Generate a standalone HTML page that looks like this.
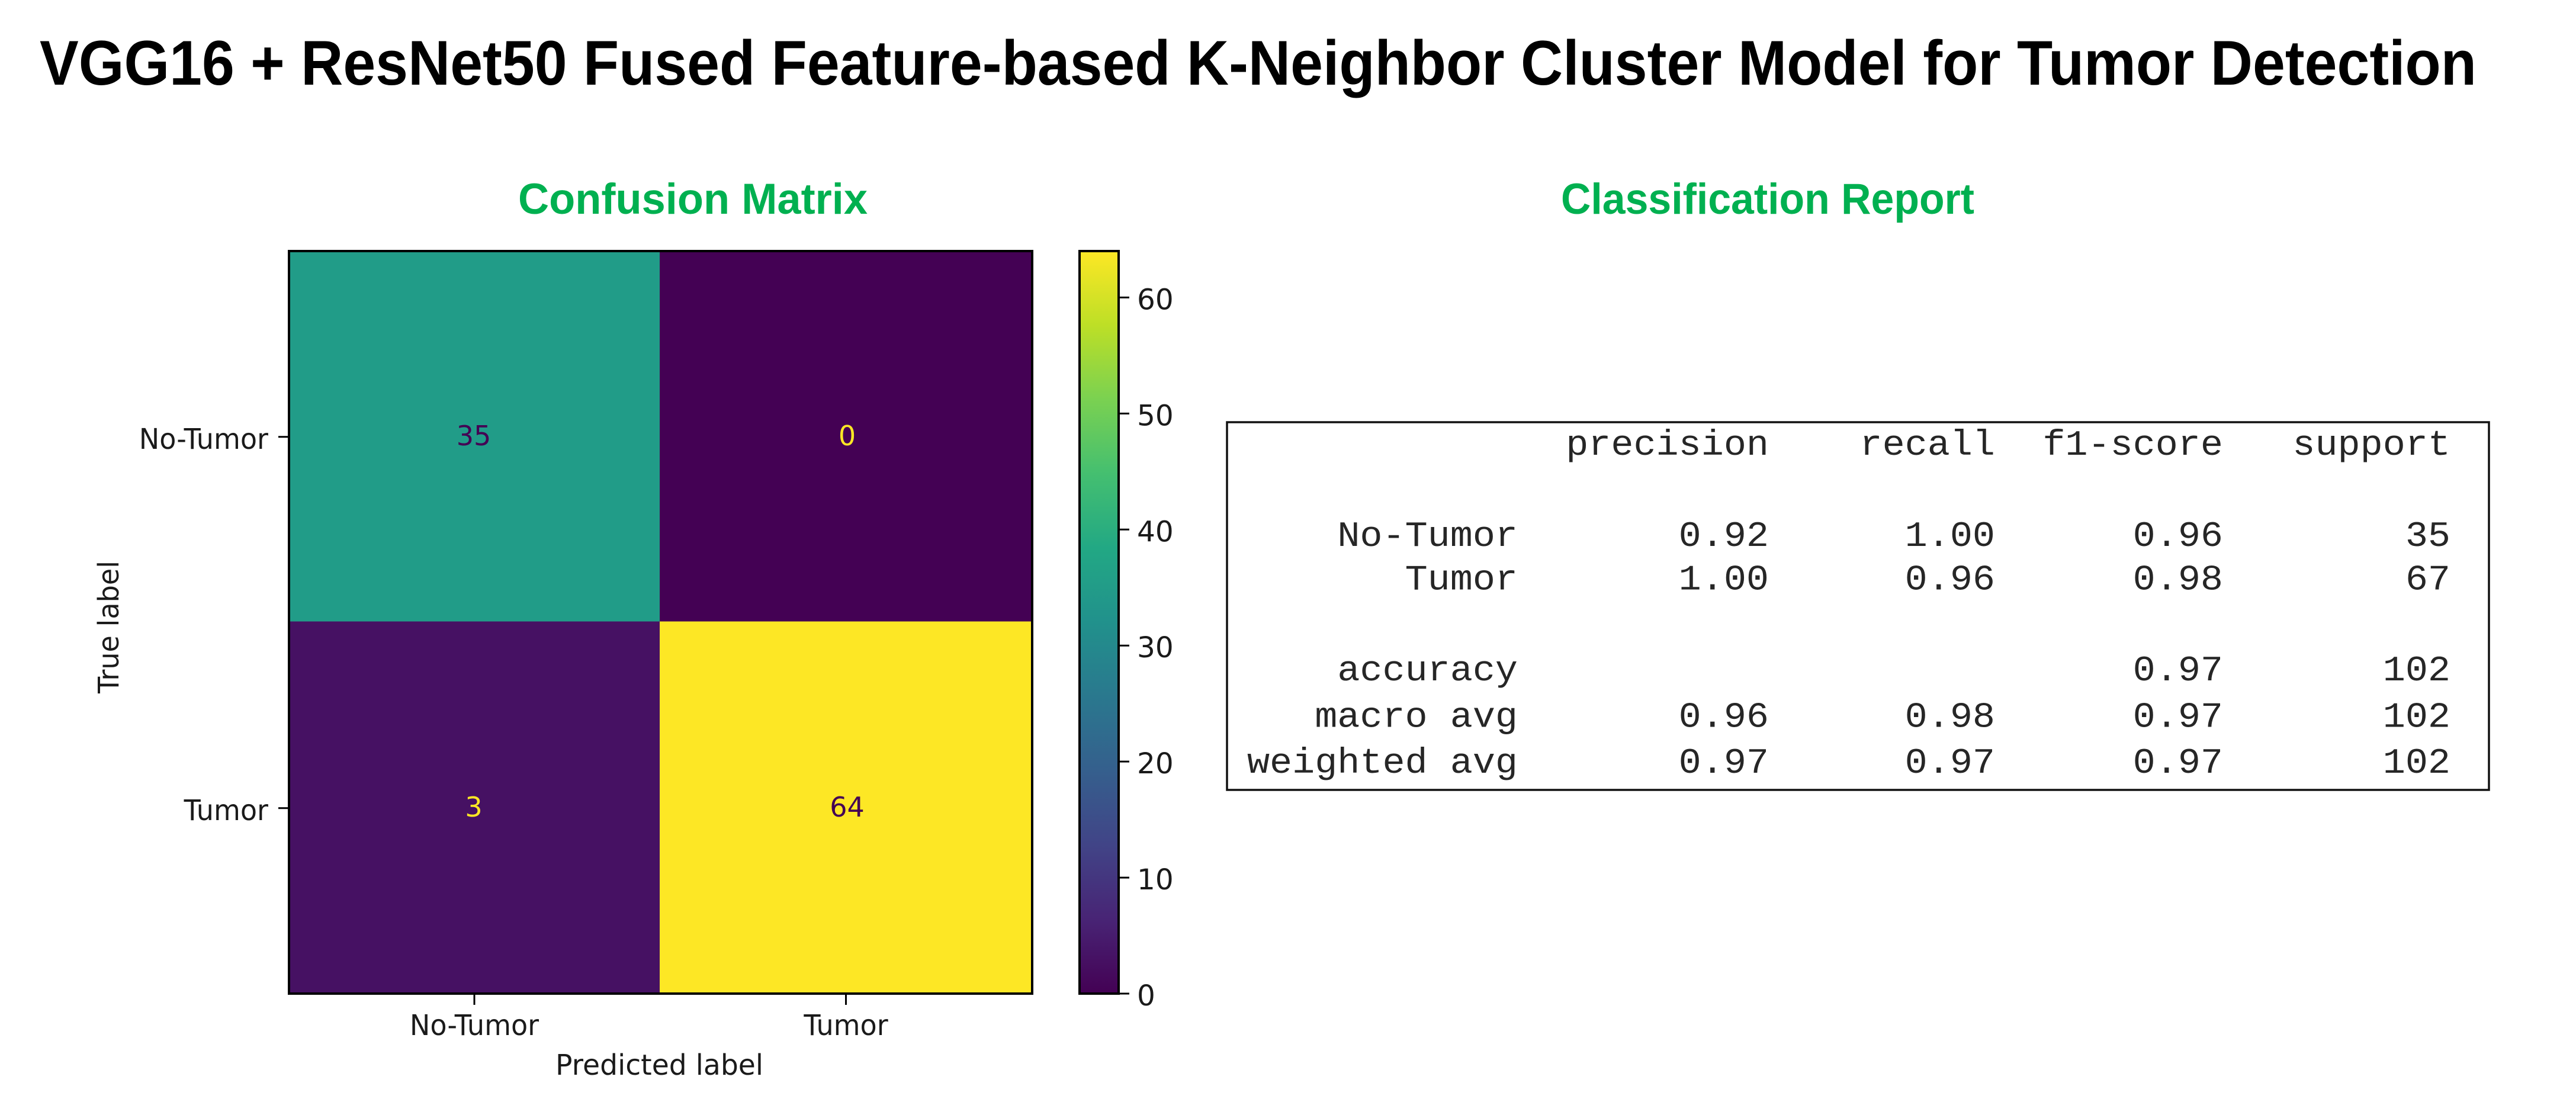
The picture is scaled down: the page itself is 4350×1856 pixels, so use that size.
<!DOCTYPE html>
<html lang="en">
<head>
<meta charset="utf-8">
<title>VGG16 + ResNet50 Fused Feature-based K-Neighbor Cluster Model for Tumor Detection</title>
<style>
html,body{margin:0;padding:0;background:#fff;width:4350px;height:1856px;overflow:hidden}
svg{display:block;position:absolute;left:0;top:0}
text{white-space:pre}
.dj{font-family:"DejaVu Sans","Liberation Sans",sans-serif;font-size:48.5px;fill:#1a1a1a}
.mono{font-family:"Liberation Mono",monospace;font-size:60px;fill:#262626}
.head{font-family:"Liberation Sans",sans-serif;font-weight:700;fill:#00b050;font-size:73px}
</style>
</head>
<body>
<svg id="fig" xmlns="http://www.w3.org/2000/svg" width="4350" height="1856" viewBox="0 0 4350 1856">
  <defs>
    <linearGradient id="viridis-grad" x1="0" y1="1" x2="0" y2="0"></linearGradient>
  </defs>
  <rect x="0" y="0" width="4350" height="1856" fill="#ffffff"/>
  <text x="67" y="143" font-family="'Liberation Sans',sans-serif" font-weight="700" font-size="107" fill="#000" textLength="4115" lengthAdjust="spacingAndGlyphs">VGG16 + ResNet50 Fused Feature-based K-Neighbor Cluster Model for Tumor Detection</text>
  <text class="head" x="875" y="361" textLength="590" lengthAdjust="spacingAndGlyphs">Confusion Matrix</text>
  <text class="head" x="2636" y="361" textLength="698" lengthAdjust="spacingAndGlyphs">Classification Report</text>
  <text class="dj" x="938" y="1815" textLength="351" lengthAdjust="spacingAndGlyphs">Predicted label</text>
  <text class="dj" transform="translate(200,1171) rotate(-90)" textLength="224" lengthAdjust="spacingAndGlyphs">True label</text>
  <g id="cm"></g>
  <g id="cbar"></g>
  <g id="report"></g>
</svg>
<script>
// Confusion matrix data
const classNames = ["No-Tumor", "Tumor"];
const matrixRow0 = [35, 0];
const matrixRow1 = [3, 64];
const colorbarTicks = [0, 10, 20, 30, 40, 50, 60];

// Classification report data
const reportHeader = ["precision", "recall", "f1-score", "support"];
const reportLabels = ["No-Tumor", "Tumor", "accuracy", "macro avg", "weighted avg"];
const reportPrecision = ["0.92", "1.00", "", "0.96", "0.97"];
const reportRecall = ["1.00", "0.96", "", "0.98", "0.97"];
const reportF1 = ["0.96", "0.98", "0.97", "0.97", "0.97"];
const reportSupport = ["35", "67", "102", "102", "102"];

const NS = "http://www.w3.org/2000/svg";
const matrix = [matrixRow0, matrixRow1];
const vmin = 0;
const vmax = Math.max(...matrixRow0, ...matrixRow1);

// viridis colormap anchors
const viridisAnchors = ["#440154","#482475","#414487","#355f8d","#2a788e","#21918c","#22a884","#44bf70","#7ad151","#bddf26","#fde725"];
function hexToRgb(h){return [1,3,5].map(function(i){return parseInt(h.substr(i,2),16);});}
function viridis(t){
  const p = Math.max(0, Math.min(1, t)) * (viridisAnchors.length - 1);
  const i = Math.min(Math.floor(p), viridisAnchors.length - 2);
  const f = p - i;
  const a = hexToRgb(viridisAnchors[i]);
  const b = hexToRgb(viridisAnchors[i + 1]);
  return "rgb(" + a.map(function(v, k){return Math.round(v + (b[k] - v) * f);}).join(",") + ")";
}
function norm(v){return (v - vmin) / (vmax - vmin);}

// axis functions
const plot = {left: 488, right: 1743, top: 424, bottom: 1678, midX: 1114, midY: 1049.5};
function cellX(i){return i === 0 ? plot.left : plot.midX;}
function cellW(i){return i === 0 ? plot.midX - plot.left : plot.right - plot.midX;}
function cellY(i){return i === 0 ? plot.top : plot.midY;}
function cellH(i){return i === 0 ? plot.midY - plot.top : plot.bottom - plot.midY;}
function cx(i){return cellX(i) + cellW(i) / 2;}
function cy(i){return cellY(i) + cellH(i) / 2;}
const bar = {left: 1823, right: 1889, top: 424, bottom: 1678};
function barY(v){return bar.bottom - norm(v) * (bar.bottom - bar.top);}

function add(parent, tag, attrs, txt){
  const el = document.createElementNS(NS, tag);
  for (const k in attrs) el.setAttribute(k, attrs[k]);
  if (txt !== undefined) el.textContent = txt;
  parent.appendChild(el);
  return el;
}

const cm = document.getElementById("cm");
matrix.forEach(function(row, r){
  row.forEach(function(v, c){
    const rect = add(cm, "rect", {x: cellX(c), y: cellY(r), width: cellW(c), height: cellH(r), fill: viridis(norm(v))});
    
    
  });
});
matrix.forEach(function(row, r){
  row.forEach(function(v, c){
    const t = add(cm, "text", {x: cx(c) + (c === 1 ? 2 : -1), y: cy(r) + 15, "text-anchor": "middle", "font-family": "'DejaVu Sans',sans-serif", "font-size": 46, fill: norm(v) > 0.5 ? "#440154" : "#fde725"}, String(v));
    
    
  });
});
const frame = add(cm, "rect", {x: plot.left, y: plot.top, width: plot.right - plot.left, height: plot.bottom - plot.top, fill: "none", stroke: "#000", "stroke-width": 4});



const labelSquash = 0.95;
classNames.forEach(function(name, i){
  const xt = add(cm, "line", {x1: cx(i), x2: cx(i), y1: plot.bottom, y2: plot.bottom + 19, stroke: "#000", "stroke-width": 3});
  
  
  const xl = add(cm, "text", {transform: "translate(" + cx(i) + ",1748) scale(" + labelSquash + ",1)", "text-anchor": "middle", class: "dj"}, name);
  
  
  const yt = add(cm, "line", {x1: plot.left - 18, x2: plot.left, y1: cy(i) + 1, y2: cy(i) + 1, stroke: "#000", "stroke-width": 3});
  
  
  const yl = add(cm, "text", {transform: "translate(453," + (cy(i) + 21) + ") scale(" + labelSquash + ",1)", "text-anchor": "end", class: "dj"}, name);
  
  
});

// colorbar
const grad = document.getElementById("viridis-grad");
viridisAnchors.forEach(function(col, i){
  add(grad, "stop", {offset: i / (viridisAnchors.length - 1), "stop-color": col});
});
const cbar = document.getElementById("cbar");
const ramp = add(cbar, "rect", {x: bar.left, y: barY(vmax), width: bar.right - bar.left, height: barY(vmin) - barY(vmax), fill: "url(#viridis-grad)", stroke: "#000", "stroke-width": 4});


colorbarTicks.forEach(function(v){
  const tick = add(cbar, "line", {x1: bar.right, x2: bar.right + 18, y1: barY(v), y2: barY(v), stroke: "#000", "stroke-width": 3});
  
  
  const label = add(cbar, "text", {x: 1920, y: barY(v) + 20, class: "dj"}, String(v));
  
  
});

// classification report
const rep = document.getElementById("report");
const box = add(rep, "rect", {x: 2072, y: 713, width: 2131, height: 621, fill: "#fff", stroke: "#111", "stroke-width": 3.5});


const columnEdges = {label: 2563, precision: 2987, recall: 3369, f1: 3754, support: 4138};
const rowBaselines = [922, 995.5, 1149, 1227.5, 1305];
const headerBaseline = 768;
const monoStretch = 1.058;
function monoText(str, right, y, name){
  if (!str) return;
  const t = add(rep, "text", {transform: "translate(" + right + "," + y + ") scale(" + monoStretch + ",1)", "text-anchor": "end", class: "mono"}, str);
  
  
}
monoText(reportHeader[0], columnEdges.precision, headerBaseline, 'report-header-precision');
monoText(reportHeader[1], columnEdges.recall, headerBaseline, 'report-header-recall');
monoText(reportHeader[2], columnEdges.f1, headerBaseline, 'report-header-f1-score');
monoText(reportHeader[3], columnEdges.support, headerBaseline, 'report-header-support');
reportLabels.forEach(function(label, i){
  const y = rowBaselines[i];
  const slug = label.replace(/ /g, '-').toLowerCase();
  monoText(label, columnEdges.label, y, 'report-label-' + slug);
  monoText(reportPrecision[i], columnEdges.precision, y, 'report-precision-' + slug);
  monoText(reportRecall[i], columnEdges.recall, y, 'report-recall-' + slug);
  monoText(reportF1[i], columnEdges.f1, y, 'report-f1-' + slug);
  monoText(reportSupport[i], columnEdges.support, y, 'report-support-' + slug);
});
</script>
</body>
</html>
